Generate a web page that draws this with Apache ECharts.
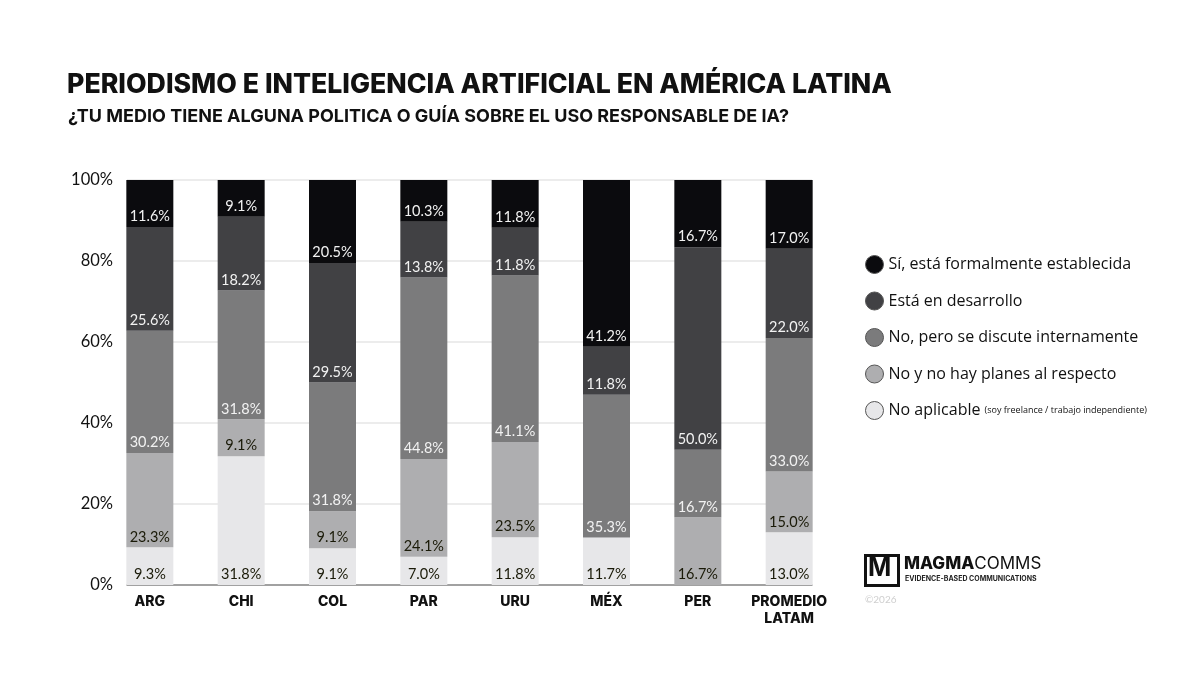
<!DOCTYPE html>
<html>
<head>
<meta charset="utf-8">
<script src="https://cdn.jsdelivr.net/npm/echarts@6/dist/echarts.min.js"></script>
<style>
html,body{margin:0;padding:0;background:#fff;}
#chart{width:1200px;height:675px;}
</style>
</head>
<body>
<div id="chart"></div>
<script type="text/javascript">
// datos
var paises = ['ARG', 'CHI', 'COL', 'PAR', 'URU', 'MÉX', 'PER', 'PROMEDIO\nLATAM'];
var noAplicable = [9.3, 31.8, 9.1, 7.0, 11.8, 11.7, 0, 13.0];
var noPlanes = [23.3, 9.1, 9.1, 24.1, 23.5, 0, 16.7, 15.0];
var noDiscute = [30.2, 31.8, 31.8, 44.8, 41.1, 35.3, 16.7, 33.0];
var desarrollo = [25.6, 18.2, 29.5, 13.8, 11.8, 11.8, 50.0, 22.0];
var formal = [11.6, 9.1, 20.5, 10.3, 11.8, 41.2, 16.7, 17.0];
var ticksY = [0, 20, 40, 60, 80, 100];

var myChart = echarts.init(document.getElementById('chart'));

var fontBase = 'Lato, "Open Sans", sans-serif';
var indices = paises.map(function(p, i){ return i; });

// construir series apiladas (eje x numerico para que la grilla empiece en la primera barra)
// el valor va primero para que el apilado se haga sobre el porcentaje
function serie(nombre, datos, color, colorTexto){
    return {
        name: nombre,
        type: 'bar',
        stack: 'total',
        barWidth: 47,
        data: datos.map(function(v, i){ return [v, i]; }),
        encode: { x: 1, y: 0 },
        itemStyle: { color: color },
        label: {
            show: true,
            position: 'insideBottom',
            distance: 3,
            color: colorTexto,
            fontFamily: fontBase,
            fontSize: 14.5,
            formatter: function(p){
                var v = p.value[0];
                return v ? v.toFixed(1) + '%' : '';
            }
        },
        emphasis: { disabled: true }
    };
}

var option = {
    backgroundColor: '#ffffff',
    animation: false,
    title: [
        {
            text: 'PERIODISMO E INTELIGENCIA ARTIFICIAL EN AMÉRICA LATINA',
            left: 62,
            top: 66,
            textStyle: { fontFamily: 'Inter, sans-serif', fontWeight: 800, fontSize: 26.7, color: '#111' }
        },
        {
            text: '¿TU MEDIO TIENE ALGUNA POLITICA O GUÍA SOBRE EL USO RESPONSABLE DE IA?',
            left: 63,
            top: 103,
            textStyle: { fontFamily: 'Inter, sans-serif', fontWeight: 700, fontSize: 18, color: '#111' }
        }
    ],
    legend: {
        orient: 'vertical',
        left: 860,
        top: 250,
        itemGap: 17.5,
        itemWidth: 18,
        itemHeight: 18,
        icon: 'circle',
        data: ['Sí, está formalmente establecida', 'Está en desarrollo', 'No, pero se discute internamente', 'No y no hay planes al respecto', 'No aplicable'],
        itemStyle: { borderColor: '#555', borderWidth: 1 },
        textStyle: {
            fontFamily: '"Open Sans", sans-serif',
            fontSize: 16,
            color: '#111',
            rich: {
                chico: { fontSize: 9, color: '#111', fontFamily: '"Open Sans", sans-serif' }
            }
        },
        formatter: function(name){
            if(name == 'No aplicable') return 'No aplicable {chico|(soy freelance / trabajo independiente)}';
            return name;
        }
    },
    grid: {
        left: 127,
        right: 388,
        top: 180,
        bottom: 90
    },
    xAxis: {
        type: 'value',
        min: -0.25,
        max: 7.25,
        splitLine: { show: false },
        axisTick: { show: false },
        axisLine: { show: true, onZero: false, lineStyle: { color: '#888', width: 1.5 } },
        axisLabel: {
            customValues: indices,
            color: '#111',
            fontFamily: 'Inter, sans-serif',
            fontWeight: 800,
            fontSize: 14,
            margin: 8,
            lineHeight: 17,
            formatter: function(v){ return paises[Math.round(v)]; }
        }
    },
    yAxis: {
        type: 'value',
        min: 0,
        max: 100,
        interval: 20,
        axisLine: { show: false },
        axisTick: { show: false },
        splitLine: { lineStyle: { color: '#e6e6e6', width: 1.5 } },
        axisLabel: {
            color: '#111',
            fontFamily: fontBase,
            fontSize: 16.5,
            margin: 14,
            formatter: function(v){ return ticksY.indexOf(v) >= 0 ? v + '%' : ''; }
        }
    },
    series: [
        serie('No aplicable', noAplicable, '#e7e7e9', '#1a1a08'),
        serie('No y no hay planes al respecto', noPlanes, '#aeaeb0', '#1a1a08'),
        serie('No, pero se discute internamente', noDiscute, '#7b7b7c', '#f2f2f2'),
        serie('Está en desarrollo', desarrollo, '#414144', '#f2f2f2'),
        serie('Sí, está formalmente establecida', formal, '#0b0b0e', '#f2f2f2')
    ],
    graphic: [
        // logo
        { type: 'rect', left: 863, top: 553, shape: { width: 33, height: 30 }, style: { fill: 'none', stroke: '#111', lineWidth: 3 } },
        { type: 'text', left: 868, top: 556, style: { text: 'M', font: '700 25px Inter, sans-serif', fill: '#111' } },
        { type: 'text', left: 904, top: 555, style: { text: '{a|MAGMA}{b|COMMS}', rich: { a: { font: '800 17px Inter, sans-serif', fill: '#111' }, b: { font: '400 17px Inter, sans-serif', fill: '#111' } } } },
        { type: 'text', left: 905, top: 575, style: { text: 'EVIDENCE-BASED COMMUNICATIONS', font: '700 7px Inter, sans-serif', fill: '#222' } },
        { type: 'text', left: 865, top: 595, style: { text: '©2026', font: '10px Lato, sans-serif', fill: '#cfcfcf' } }
    ]
};

myChart.setOption(option);
</script>
</body>
</html>
